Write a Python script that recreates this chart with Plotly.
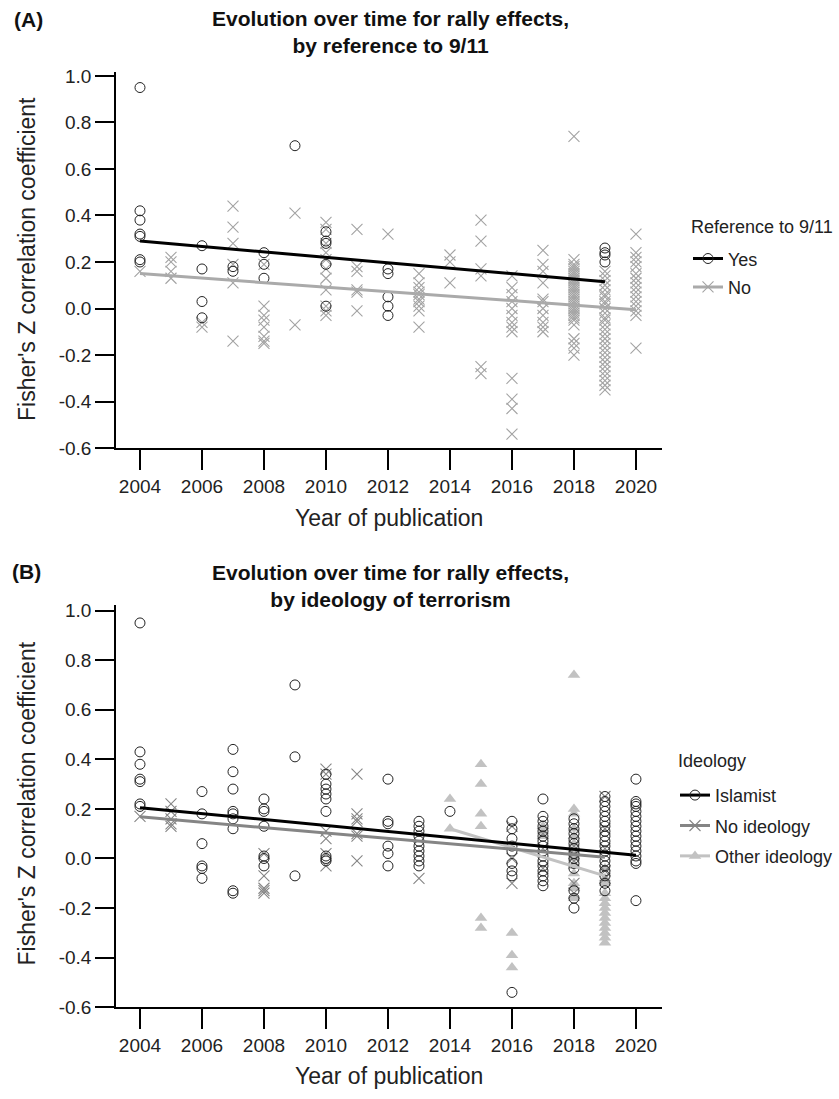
import plotly.graph_objects as go

# ---------------- Panel A data ----------------
a_yes_years = [2004]*7 + [2006]*4 + [2007]*2 + [2008]*3 + [2009] + [2010]*5 + [2012]*5 + [2019]*4
a_yes_vals = [0.95, 0.42, 0.38, 0.32, 0.31, 0.21, 0.20,
              0.27, 0.17, 0.03, -0.04,
              0.18, 0.16,
              0.24, 0.19, 0.13,
              0.70,
              0.33, 0.29, 0.28, 0.19, 0.01,
              0.17, 0.15, 0.05, 0.01, -0.03,
              0.26, 0.24, 0.23, 0.20]

a_no_years = ([2004] + [2005]*4 + [2006]*2 + [2007]*6 + [2008]*8 + [2009]*2 + [2010]*11 + [2011]*6 +
              [2012] + [2013]*10 + [2014]*3 + [2015]*6 + [2016]*13 + [2017]*11 + [2018]*32 + [2019]*28 + [2020]*16)
a_no_vals = [0.16,
             0.22, 0.20, 0.16, 0.13,
             -0.06, -0.08,
             0.44, 0.35, 0.28, 0.19, 0.11, -0.14,
             0.19, 0.01, -0.03, -0.05, -0.08, -0.12, -0.14, -0.15,
             0.41, -0.07,
             0.37, 0.34, 0.28, 0.24, 0.21, 0.17, 0.13, 0.08, 0.01, -0.01, -0.03,
             0.34, 0.18, 0.16, 0.08, 0.07, -0.01,
             0.32,
             0.15, 0.11, 0.09, 0.07, 0.06, 0.04, 0.03, 0.01, -0.01, -0.08,
             0.23, 0.20, 0.11,
             0.38, 0.29, 0.17, 0.14, -0.25, -0.28,
             0.14, 0.09, 0.06, 0.03, 0.00, -0.03, -0.06, -0.08, -0.10, -0.30, -0.39, -0.43, -0.54,
             0.25, 0.19, 0.16, 0.11, 0.04, 0.03, 0.00, -0.03, -0.06, -0.08, -0.10,
             0.74, 0.21, 0.19, 0.18, 0.17, 0.16, 0.15, 0.14, 0.13, 0.12, 0.11, 0.10, 0.09, 0.08, 0.07, 0.06,
             0.05, 0.04, 0.03, 0.02, 0.01, 0.00, -0.01, -0.02, -0.03, -0.04, -0.05, -0.07, -0.13, -0.15, -0.17, -0.20,
             0.16, 0.14, 0.12, 0.10, 0.08, 0.06, 0.05, 0.03, 0.02, 0.00, -0.02, -0.04, -0.05, -0.07,
             -0.09, -0.11, -0.13, -0.15, -0.17, -0.19, -0.21, -0.23, -0.25, -0.27, -0.29, -0.31, -0.33, -0.35,
             0.32, 0.24, 0.22, 0.20, 0.18, 0.15, 0.13, 0.11, 0.09, 0.07, 0.05, 0.03, 0.01, -0.01, -0.03, -0.17]

# fitted trend lines (end points)
a_yes_fit_years = [2004, 2019]
a_yes_fit_vals = [0.29, 0.115]
a_no_fit_years = [2004, 2020]
a_no_fit_vals = [0.15, -0.005]

# ---------------- Panel B data ----------------
b_isl_years = ([2004]*7 + [2006]*6 + [2007]*9 + [2008]*7 + [2009]*3 + [2010]*9 + [2012]*6 + [2013]*10 +
               [2014] + [2016]*9 + [2017]*16 + [2018]*14 + [2019]*19 + [2020]*17)
b_isl_vals = [0.95, 0.43, 0.38, 0.32, 0.31, 0.22, 0.21,
              0.27, 0.18, 0.06, -0.03, -0.04, -0.08,
              0.44, 0.35, 0.28, 0.19, 0.18, 0.16, 0.12, -0.13, -0.14,
              0.24, 0.20, 0.19, 0.13, 0.01, 0.00, -0.03,
              0.70, 0.41, -0.07,
              0.34, 0.30, 0.28, 0.26, 0.24, 0.19, 0.01, 0.00, -0.01,
              0.32, 0.15, 0.14, 0.05, 0.02, -0.03,
              0.15, 0.13, 0.11, 0.09, 0.07, 0.05, 0.03, 0.01, -0.01, -0.03,
              0.19,
              0.15, 0.12, 0.08, 0.05, 0.03, -0.02, -0.05, -0.07, -0.54,
              0.24, 0.17, 0.15, 0.13, 0.11, 0.09, 0.07, 0.05, 0.03, 0.01, -0.01, -0.03, -0.05, -0.07, -0.09, -0.11,
              0.16, 0.14, 0.12, 0.10, 0.08, 0.06, 0.04, 0.02, 0.00, -0.02, -0.04, -0.13, -0.16, -0.20,
              0.25, 0.23, 0.21, 0.19, 0.17, 0.15, 0.13, 0.11, 0.09, 0.07, 0.05, 0.03, 0.01, -0.01, -0.03, -0.05, -0.07, -0.10, -0.13,
              0.32, 0.23, 0.22, 0.21, 0.19, 0.17, 0.15, 0.13, 0.11, 0.09, 0.07, 0.05, 0.03, 0.01, -0.01, -0.02, -0.17]

b_noid_years = ([2004] + [2005]*5 + [2008]*5 + [2010]*6 + [2011]*7 + [2013] + [2016]*3 + [2017]*3 +
                [2018]*5 + [2019]*5)
b_noid_vals = [0.17,
               0.22, 0.19, 0.16, 0.14, 0.13,
               0.02, -0.07, -0.12, -0.13, -0.14,
               0.36, 0.34, 0.11, 0.08, 0.02, -0.03,
               0.34, 0.18, 0.16, 0.15, 0.10, 0.09, -0.01,
               -0.08,
               0.13, 0.00, -0.10,
               0.10, 0.04, -0.04,
               0.05, 0.02, -0.01, -0.10, -0.14,
               0.25, 0.12, 0.04, -0.05, -0.08]

b_oth_years = [2014]*2 + [2015]*6 + [2016]*3 + [2017]*3 + [2018]*13 + [2019]*14
b_oth_vals = [0.24, 0.12,
              0.38, 0.30, 0.18, 0.13, -0.24, -0.28,
              -0.30, -0.39, -0.44,
              0.13, 0.11, 0.09,
              0.74, 0.20, 0.18, 0.12, 0.09, 0.06, 0.03, 0.00, -0.03, -0.06, -0.10, -0.12, -0.16,
              -0.04, -0.08, -0.10, -0.14, -0.16, -0.18, -0.20, -0.22, -0.24, -0.26, -0.28, -0.30, -0.32, -0.34]

b_isl_fit_years = [2004, 2020]
b_isl_fit_vals = [0.205, 0.013]
b_noid_fit_years = [2004, 2019]
b_noid_fit_vals = [0.168, 0.005]
b_oth_fit_years = [2014, 2019]
b_oth_fit_vals = [0.12, -0.07]

x_ticks = [2004, 2006, 2008, 2010, 2012, 2014, 2016, 2018, 2020]
y_ticks = [1.0, 0.8, 0.6, 0.4, 0.2, 0.0, -0.2, -0.4, -0.6]
y_tick_text = ["1.0", "0.8", "0.6", "0.4", "0.2", "0.0", "-0.2", "-0.4", "-0.6"]

# ---------------- figure ----------------
W, H = 839, 1099
FONT = "Liberation Sans, Arial, sans-serif"

def px_x(p):
    return p / W

def px_y(p):
    return 1 - p / H

fig = go.Figure()

circle = dict(symbol="circle-open", size=10, color="#222222", line=dict(width=1, color="#222222"))
cross_a = dict(symbol="x-thin-open", size=11, color="#a3a3a3", line=dict(width=1.1, color="#a3a3a3"))
cross_b = dict(symbol="x-thin-open", size=11, color="#858585", line=dict(width=1.1, color="#858585"))
tri = dict(symbol="triangle-up", size=11, color="#c2c2c2", line=dict(width=0))

# Panel A
fig.add_trace(go.Scatter(x=a_no_years, y=a_no_vals, mode="markers", marker=cross_a,
                         xaxis="x", yaxis="y", showlegend=False))
fig.add_trace(go.Scatter(x=a_yes_years, y=a_yes_vals, mode="markers", marker=circle,
                         xaxis="x", yaxis="y", showlegend=False))
fig.add_trace(go.Scatter(x=a_no_fit_years, y=a_no_fit_vals, mode="lines",
                         line=dict(color="#aaaaaa", width=3), xaxis="x", yaxis="y", showlegend=False))
fig.add_trace(go.Scatter(x=a_yes_fit_years, y=a_yes_fit_vals, mode="lines",
                         line=dict(color="#000000", width=3), xaxis="x", yaxis="y", showlegend=False))
fig.add_trace(go.Scatter(x=[None], y=[None], mode="lines+markers", name="Yes", legend="legend",
                         legendgroup="yes", line=dict(color="#000000", width=3), marker=circle,
                         xaxis="x", yaxis="y"))
fig.add_trace(go.Scatter(x=[None], y=[None], mode="lines+markers", name="No", legend="legend",
                         legendgroup="no", line=dict(color="#aaaaaa", width=3), marker=cross_a,
                         xaxis="x", yaxis="y"))

# Panel B
fig.add_trace(go.Scatter(x=b_oth_years, y=b_oth_vals, mode="markers", marker=tri,
                         xaxis="x2", yaxis="y2", showlegend=False))
fig.add_trace(go.Scatter(x=b_noid_years, y=b_noid_vals, mode="markers", marker=cross_b,
                         xaxis="x2", yaxis="y2", showlegend=False))
fig.add_trace(go.Scatter(x=b_isl_years, y=b_isl_vals, mode="markers", marker=circle,
                         xaxis="x2", yaxis="y2", showlegend=False))
fig.add_trace(go.Scatter(x=b_oth_fit_years, y=b_oth_fit_vals, mode="lines",
                         line=dict(color="#c2c2c2", width=3), xaxis="x2", yaxis="y2", showlegend=False))
fig.add_trace(go.Scatter(x=b_noid_fit_years, y=b_noid_fit_vals, mode="lines",
                         line=dict(color="#858585", width=3), xaxis="x2", yaxis="y2", showlegend=False))
fig.add_trace(go.Scatter(x=b_isl_fit_years, y=b_isl_fit_vals, mode="lines",
                         line=dict(color="#000000", width=3), xaxis="x2", yaxis="y2", showlegend=False))
fig.add_trace(go.Scatter(x=[None], y=[None], mode="lines+markers", name="Islamist", legend="legend2",
                         legendgroup="isl", line=dict(color="#000000", width=3), marker=circle,
                         xaxis="x2", yaxis="y2"))
fig.add_trace(go.Scatter(x=[None], y=[None], mode="lines+markers", name="No ideology", legend="legend2",
                         legendgroup="noid", line=dict(color="#858585", width=3), marker=cross_b,
                         xaxis="x2", yaxis="y2"))
fig.add_trace(go.Scatter(x=[None], y=[None], mode="lines+markers", name="Other ideology", legend="legend2",
                         legendgroup="oth", line=dict(color="#c2c2c2", width=3), marker=tri,
                         xaxis="x2", yaxis="y2"))

x_dom = [px_x(116), px_x(662)]
x_range = [2003.226, 2020.84]

axis_common = dict(showgrid=False, zeroline=False, showline=True, linecolor="#000000", linewidth=1.5,
                   ticks="outside", tickcolor="#000000", tickwidth=1.5,
                   tickfont=dict(family=FONT, size=19, color="#222222"))

leg_font = dict(family=FONT, size=18, color="#222222")
fig.update_layout(
    width=W, height=H, autosize=False,
    margin=dict(l=0, r=0, t=0, b=0),
    paper_bgcolor="white", plot_bgcolor="white",
    font=dict(family=FONT, color="#222222"),
    xaxis=dict(domain=x_dom, range=x_range, anchor="y", tickvals=x_ticks, ticklen=20, **axis_common),
    yaxis=dict(domain=[px_y(449), px_y(67)], range=[-0.6, 1.017], anchor="x",
               tickvals=y_ticks, ticktext=y_tick_text, ticklen=19, **axis_common),
    xaxis2=dict(domain=x_dom, range=x_range, anchor="y2", tickvals=x_ticks, ticklen=20, **axis_common),
    yaxis2=dict(domain=[px_y(1017), px_y(608)], range=[-0.6, 1.024], anchor="x2",
                tickvals=y_ticks, ticktext=y_tick_text, ticklen=19, **axis_common),
    legend=dict(x=px_x(688), y=px_y(238), xanchor="left", yanchor="top", traceorder="grouped",
                tracegroupgap=2, font=leg_font, bgcolor="rgba(0,0,0,0)"),
    legend2=dict(x=px_x(675), y=px_y(783), xanchor="left", yanchor="top", traceorder="grouped",
                 tracegroupgap=4, font=leg_font, bgcolor="rgba(0,0,0,0)"),
)

title_font = dict(family=FONT, size=21, color="#111111")
axt_font = dict(family=FONT, size=23, color="#222222")
ann = [
    dict(text="<b>(A)</b>", x=px_x(12), y=px_y(14), xanchor="left", yanchor="middle", font=title_font),
    dict(text="<b>Evolution over time for rally effects,<br>by reference to 9/11</b>", x=px_x(390), y=px_y(26),
         xanchor="center", yanchor="middle", font=title_font),
    dict(text="Year of publication", x=px_x(389), y=px_y(520), xanchor="center", yanchor="middle",
         font=axt_font),
    dict(text="Fisher's Z correlation coefficient", x=px_x(27), y=px_y(257), xanchor="center", yanchor="middle",
         textangle=-90, font=axt_font),
    dict(text="Reference to 9/11", x=px_x(689), y=px_y(224), xanchor="left", yanchor="middle", font=leg_font),
    dict(text="<b>(B)</b>", x=px_x(10), y=px_y(574), xanchor="left", yanchor="middle", font=title_font),
    dict(text="<b>Evolution over time for rally effects,<br>by ideology of terrorism</b>", x=px_x(390), y=px_y(589),
         xanchor="center", yanchor="middle", font=title_font),
    dict(text="Year of publication", x=px_x(389), y=px_y(1087), xanchor="center", yanchor="middle",
         font=axt_font),
    dict(text="Fisher's Z correlation coefficient", x=px_x(27), y=px_y(810), xanchor="center", yanchor="middle",
         textangle=-90, font=axt_font),
    dict(text="Ideology", x=px_x(676), y=px_y(767), xanchor="left", yanchor="middle", font=leg_font),
]
for a in ann:
    a.update(xref="paper", yref="paper", showarrow=False)
fig.update_layout(annotations=ann)

fig.write_html("out.html", config={"displayModeBar": False},
               post_script="document.body.style.margin='0px';document.body.style.overflow='hidden';")
